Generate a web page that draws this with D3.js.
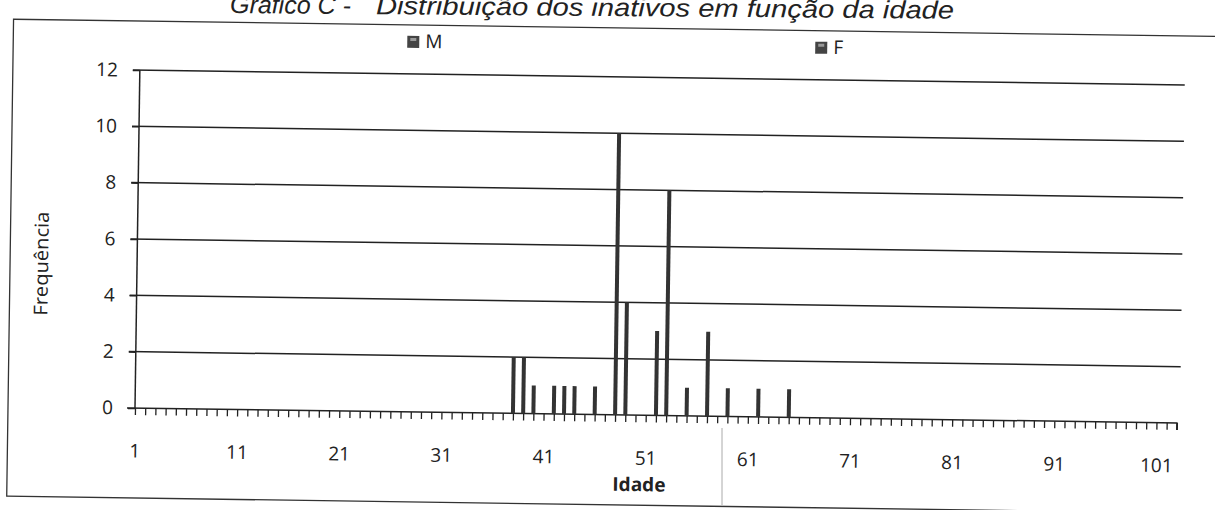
<!DOCTYPE html>
<html>
<head>
<meta charset="utf-8">
<script src="https://cdn.jsdelivr.net/npm/d3@7"></script>
<style>
    body { margin: 0; background: #fff; }
    svg { display: block; }
    .tick text { font-family: "Open Sans", "Noto Sans", sans-serif; font-size: 19px; fill: #222; }
</style>
</head>
<body>
<svg id="chart" width="1215" height="510"></svg>
<script>
// ages on the category axis (1 .. 103), labelled every 10
var ages = d3.range(1, 104);
var ageLabels = [1, 11, 21, 31, 41, 51, 61, 71, 81, 91, 101];
// ages that have a bar, and their frequency
var barAges = [38, 39, 40, 42, 43, 44, 46, 48, 49, 52, 53, 55, 57, 59, 62, 65];
var barFreq = [2, 2, 1, 1, 1, 1, 1, 10, 4, 3, 8, 1, 3, 1, 1, 1];
var yTicks = [0, 2, 4, 6, 8, 10, 12];
var seriesNames = ['M', 'F'];

function drawChart() {
    var svg = d3.select('#chart');
    var pLeft = 135, pRight = 1177, pTop = 70, pBottom = 408;

    // scan artefact: faint fold line
    svg.append('line')
        .attr('x1', 722).attr('x2', 722).attr('y1', 428).attr('y2', 505)
        .attr('stroke', '#aaa').attr('stroke-width', 1);

    // title (cut by the top of the scan)
    var tg = svg.append('g').attr('transform', 'rotate(0.45,230,13)');
    tg.append('text')
        .attr('x', 230).attr('y', 13)
        .attr('font-family', '"Liberation Sans", Arial, sans-serif')
        .attr('font-style', 'italic').attr('font-size', 25).attr('fill', '#222')
        .text('Gráfico C -');
    tg.append('text')
        .attr('x', 376).attr('y', 13)
        .attr('font-family', '"Liberation Sans", Arial, sans-serif')
        .attr('font-style', 'italic').attr('font-size', 25).attr('fill', '#222')
        .attr('textLength', 578).attr('lengthAdjust', 'spacingAndGlyphs')
        .text('Distribuição dos inativos em função da idade');

    // the scanned page is slightly rotated
    var g = svg.append('g').attr('transform', 'rotate(0.82,' + pLeft + ',' + pBottom + ')');

    // outer frame
    g.append('rect')
        .attr('x', 8).attr('y', 21).attr('width', 1240).attr('height', 477)
        .attr('fill', 'none').attr('stroke', '#333').attr('stroke-width', 1.3);

    var x = d3.scalePoint().domain(ages).range([pLeft, pRight]);
    var y = d3.scaleLinear().domain([0, 12]).range([pBottom, pTop]);

    // gridlines
    g.append('g').selectAll('line')
        .data(yTicks.slice(1))
        .enter().append('line')
        .attr('x1', pLeft - 7).attr('x2', pRight + 3)
        .attr('y1', function (d) { return y(d); })
        .attr('y2', function (d) { return y(d); })
        .attr('stroke', '#222').attr('stroke-width', 1.5);

    // y axis
    var yAxis = g.append('g')
        .attr('transform', 'translate(' + pLeft + ',0)')
        .call(d3.axisLeft(y).tickValues(yTicks).tickSize(7).tickPadding(15));
    yAxis.select('.domain').attr('d', 'M0,' + pTop + 'V' + pBottom)
        .attr('stroke', '#222').attr('stroke-width', 1.5);
    yAxis.selectAll('.tick line').attr('stroke', '#222').attr('stroke-width', 1.5);

    // x axis, one tick per age
    var xAxis = g.append('g')
        .attr('transform', 'translate(0,' + pBottom + ')')
        .call(d3.axisBottom(x).tickSize(7).tickPadding(29)
              .tickFormat(function (d) { return ageLabels.indexOf(d) >= 0 ? d : ''; }));
    xAxis.select('.domain').attr('d', 'M' + (pLeft - 8) + ',0H' + pRight + 'V7')
        .attr('stroke', '#222').attr('stroke-width', 1.5);
    xAxis.selectAll('.tick line').attr('stroke', '#222').attr('stroke-width', 1.3);

    // bars
    g.append('g').selectAll('rect')
        .data(barAges)
        .enter().append('rect')
        .attr('x', function (d) { return x(d) - 2; })
        .attr('width', 4)
        .attr('y', function (d, i) { return y(barFreq[i]); })
        .attr('height', function (d, i) { return pBottom - y(barFreq[i]); })
        .attr('fill', '#333');

    // axis titles
    g.append('text')
        .attr('transform', 'translate(46,265) rotate(-90)')
        .attr('text-anchor', 'middle')
        .attr('font-family', '"Open Sans", "Noto Sans", sans-serif')
        .attr('font-size', 19).attr('fill', '#222')
        .attr('textLength', 104).attr('lengthAdjust', 'spacingAndGlyphs')
        .text('Frequência');
    g.append('text')
        .attr('x', 640).attr('y', 484)
        .attr('text-anchor', 'middle')
        .attr('font-family', '"Open Sans", "Noto Sans", sans-serif')
        .attr('font-size', 19).attr('font-weight', 'bold').attr('fill', '#222')
        .text('Idade');

    // legend
    var legendX = [402, 810];
    var lg = g.append('g').selectAll('g')
        .data(seriesNames)
        .enter().append('g')
        .attr('transform', function (d, i) { return 'translate(' + legendX[i] + ',32)'; });
    lg.append('rect')
        .attr('width', 12).attr('height', 12)
        .attr('fill', '#444');
    lg.append('rect')
        .attr('x', 3).attr('y', 2).attr('width', 6).attr('height', 3)
        .attr('fill', '#999');
    lg.append('text')
        .attr('x', 18).attr('y', 12)
        .attr('font-family', '"Open Sans", "Noto Sans", sans-serif')
        .attr('font-size', 19).attr('fill', '#222')
        .text(function (d) { return d; });
}

drawChart();
</script>
</body>
</html>
